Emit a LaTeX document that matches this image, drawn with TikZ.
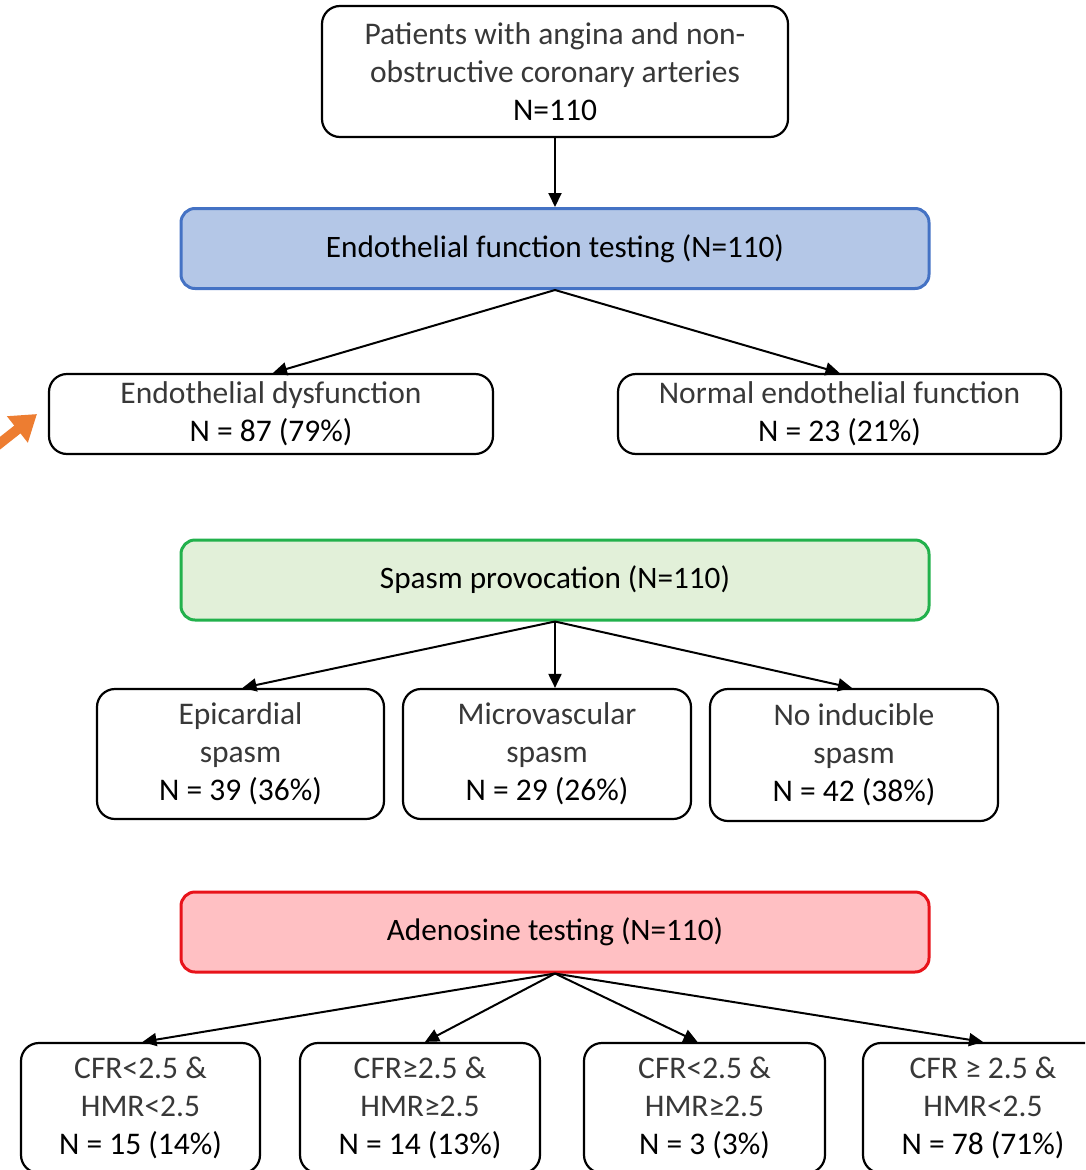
\documentclass[tikz,border=0pt]{standalone}
\usepackage{fontspec}
\setmainfont{Carlito}
\usetikzlibrary{arrows.meta}
\definecolor{bfill}{HTML}{B4C7E7}
\definecolor{bdraw}{HTML}{4472C4}
\definecolor{gfill}{HTML}{E2F0D9}
\definecolor{gdraw}{HTML}{22B14C}
\definecolor{rfill}{HTML}{FFC0C3}
\definecolor{rdraw}{HTML}{E8131A}
\definecolor{orangec}{HTML}{ED7D31}
\definecolor{lighttext}{HTML}{383838}
\newcommand{\lt}[1]{{\color{lighttext}#1}}
\begin{document}
\begin{tikzpicture}[x=1pt,y=-1pt,
  box/.style={draw=black, line width=2.2pt, rounded corners=18pt, fill=white,
    align=center, inner sep=0pt, font=\fontsize{31.5}{38}\selectfont},
  hdr/.style={line width=3pt, rounded corners=14pt, inner sep=0pt,
    minimum width=748pt, minimum height=80pt, font=\fontsize{31.2}{36}\selectfont},
  conn/.style={-{Triangle[length=14pt,width=13pt]}, line width=2pt}]
\useasboundingbox (0,0) rectangle (1085,1170);
\begin{scope}
\clip (0,0) rectangle (1085,1170);
% top
\node[box, minimum width=466pt, minimum height=131pt] (top) at (555,71.5)
  {\lt{Patients with angina and non-}\\\lt{obstructive coronary arteries}\\N=110};
% headers
\node[hdr, draw=bdraw, fill=bfill] (blue) at (555,248.5) {Endothelial function testing (N=110)};
\node[hdr, draw=gdraw, fill=gfill] (green) at (555,580) {Spasm provocation (N=110)};
\node[hdr, draw=rdraw, fill=rfill] (red) at (555,932) {Adenosine testing (N=110)};
% endothelial results
\node[box, minimum width=444pt, minimum height=80pt] (ed) at (271,414)
  {\lt{Endothelial dysfunction}\\N = 87 (79\%)};
\node[box, minimum width=443pt, minimum height=80pt] (nef) at (839.5,414)
  {\lt{Normal endothelial function}\\N = 23 (21\%)};
% spasm results
\node[box, minimum width=287pt, minimum height=130pt] (epi) at (240.5,754)
  {\lt{Epicardial}\\\lt{spasm}\\N = 39 (36\%)};
\node[box, minimum width=288pt, minimum height=130pt] (micro) at (547,754)
  {\lt{Microvascular}\\\lt{spasm}\\N = 29 (26\%)};
\node[box, minimum width=288pt, minimum height=132pt] (noind) at (854,755)
  {\lt{No inducible}\\\lt{spasm}\\N = 42 (38\%)};
% adenosine results
\node[box, minimum width=239pt, minimum height=130pt] (b1) at (140.5,1108)
  {\lt{CFR<2.5 \&}\\\lt{HMR<2.5}\\N = 15 (14\%)};
\node[box, minimum width=240pt, minimum height=130pt] (b2) at (420,1108)
  {\lt{CFR≥2.5 \&}\\\lt{HMR≥2.5}\\N = 14 (13\%)};
\node[box, minimum width=241pt, minimum height=130pt] (b3) at (704.5,1108)
  {\lt{CFR<2.5 \&}\\\lt{HMR≥2.5}\\N = 3 (3\%)};
\node[box, minimum width=240pt, minimum height=130pt] (b4) at (983,1108)
  {\lt{CFR ≥ 2.5 \&}\\\lt{HMR<2.5}\\N = 78 (71\%)};
% connectors
\draw[conn] (top.south) -- (blue.north);
\draw[conn] (blue.south) -- ([xshift=2pt]ed.north);
\draw[conn] (blue.south) -- (nef.north);
\draw[conn] (green.south) -- ([xshift=2pt]epi.north);
\draw[conn] (green.south) -- (green.south |- micro.north);
\draw[conn] (green.south) -- ([xshift=-2pt]noind.north);
\draw[conn] (red.south) -- ([xshift=2pt]b1.north);
\draw[conn] (red.south) -- ([xshift=5pt]b2.north);
\draw[conn] (red.south) -- ([xshift=-7pt]b3.north);
\draw[conn] (red.south) -- (b4.north);
% orange arrow fragment
\coordinate (otail) at (-20,459);
\coordinate (otip) at (37,414);
\draw[orangec, line width=10pt, -{Triangle[length=25pt,width=32pt]}] (otail) -- (otip);
\end{scope}
\end{tikzpicture}
\end{document}
